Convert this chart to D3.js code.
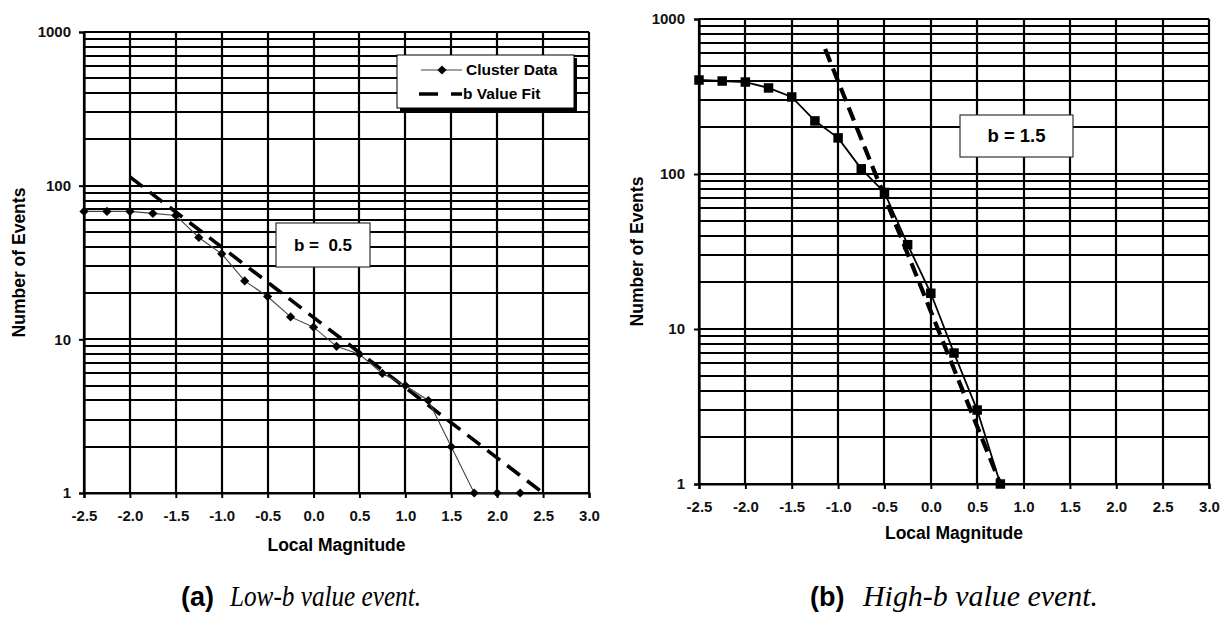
<!DOCTYPE html>
<html>
<head>
<meta charset="utf-8">
<script src="https://cdn.jsdelivr.net/npm/d3@7"></script>
<style>
  body { margin: 0; background: #fff; }
  text { font-family: "Liberation Sans", Arial, sans-serif; }
</style>
</head>
<body>
<svg id="chart" width="1220" height="622"></svg>
<script>
// panel (a) - low b value event
var magA = [-2.5, -2.25, -2.0, -1.75, -1.5, -1.25, -1.0, -0.75, -0.5, -0.25, 0.0, 0.25, 0.5, 0.75, 1.0, 1.25, 1.5, 1.75, 2.0, 2.25];
var countA = [68, 68, 68, 66, 64, 46, 36, 24, 19, 14, 12, 9, 8, 6, 5, 4, 2, 1, 1, 1];
var fitMagA = [-2.0, 2.5];
var fitCountA = [114, 1];

// panel (b) - high b value event
var magB = [-2.5, -2.25, -2.0, -1.75, -1.5, -1.25, -1.0, -0.75, -0.5, -0.25, 0.0, 0.25, 0.5, 0.75];
var countB = [404, 398, 392, 359, 314, 220, 171, 108, 76, 35, 17, 7, 3, 1];
var fitMagB = [-1.14, 0.75];
var fitCountB = [640, 1];

var xTicks = [-2.5, -2.0, -1.5, -1.0, -0.5, 0.0, 0.5, 1.0, 1.5, 2.0, 2.5, 3.0];
var yTicks = [1, 10, 100, 1000];
var legendLabels = ["Cluster Data", "b Value Fit"];

var svg = d3.select("#chart");

function drawPanel(p) {
    var x = d3.scaleLinear().domain([-2.5, 3.0]).range([p.left, p.right]);
    var y = d3.scaleLog().domain([1, 1000]).range([p.bottom, p.top]);
    var g = svg.append("g");

    // grid: every decade step, and every 0.5 magnitude
    var minor = [];
    [1, 10, 100].forEach(function(d) {
        for (var k = 1; k <= 10; k++) minor.push(d * k);
    });
    g.selectAll(".hg").data(minor).enter().append("line")
        .attr("x1", p.left).attr("x2", p.right)
        .attr("y1", function(d) { return Math.round(y(d)); })
        .attr("y2", function(d) { return Math.round(y(d)); })
        .attr("stroke", "#000").attr("stroke-width", 2.2);
    g.selectAll(".vg").data(xTicks).enter().append("line")
        .attr("x1", function(d) { return Math.round(x(d)); })
        .attr("x2", function(d) { return Math.round(x(d)); })
        .attr("y1", p.top).attr("y2", p.bottom)
        .attr("stroke", "#000").attr("stroke-width", 2.2);

    // axes
    var ax = g.append("g")
        .attr("transform", "translate(0," + p.bottom + ")")
        .call(d3.axisBottom(x).tickValues(xTicks).tickSize(5).tickPadding(12)
            .tickFormat(function(d) { return d.toFixed(1); }));
    var ay = g.append("g")
        .attr("transform", "translate(" + p.left + ",0)")
        .call(d3.axisLeft(y).tickValues(yTicks).tickSize(5).tickPadding(p.yPad)
            .tickFormat(d3.format("d")));
    [ax, ay].forEach(function(a) {
        a.select(".domain").attr("stroke", "#000").attr("stroke-width", 2.2);
        a.selectAll(".tick line").attr("stroke", "#000").attr("stroke-width", 2);
        a.selectAll("text").attr("fill", "#111")
            .style("font-family", "Liberation Sans, Arial, sans-serif")
            .style("font-size", "15px").style("font-weight", "bold");
    });

    // axis titles
    g.append("text")
        .attr("x", (p.left + p.right) / 2).attr("y", p.xTitleY)
        .attr("text-anchor", "middle")
        .style("font-size", "17.5px").style("font-weight", "bold")
        .text("Local Magnitude");
    g.append("text")
        .attr("transform", "translate(" + p.yTitleX + "," + (p.top + p.bottom) / 2 + ") rotate(-90)")
        .attr("text-anchor", "middle")
        .style("font-size", "17.5px").style("font-weight", "bold")
        .text("Number of Events");

    // fitted b value line
    var fit = p.fitMag.map(function(m, i) { return [m, p.fitCount[i]]; });
    var line = d3.line().x(function(d) { return x(d[0]); }).y(function(d) { return y(d[1]); });
    g.append("path").datum(fit)
        .attr("d", line)
        .attr("fill", "none").attr("stroke", "#000")
        .attr("stroke-width", p.fitWidth).attr("stroke-dasharray", p.fitDash);

    // cluster data
    var pts = p.mag.map(function(m, i) { return [m, p.count[i]]; });
    g.append("path").datum(pts)
        .attr("d", line)
        .attr("fill", "none").attr("stroke", p.dataColor).attr("stroke-width", p.dataWidth);
    g.selectAll(".pt").data(pts).enter().append("path")
        .attr("d", d3.symbol().type(d3.symbolSquare).size(p.symbolSize))
        .attr("transform", function(d) {
            return "translate(" + x(d[0]) + "," + y(d[1]) + ")" + (p.diamond ? " rotate(45)" : "");
        })
        .attr("fill", "#000");

    // b value annotation
    var bx = p.bBox;
    g.append("rect").attr("x", bx[0]).attr("y", bx[1]).attr("width", bx[2]).attr("height", bx[3])
        .attr("fill", "#fff").attr("stroke", "#333").attr("stroke-width", 1.2);
    g.append("text")
        .attr("x", bx[0] + bx[2] / 2).attr("y", bx[1] + bx[3] / 2 + 6)
        .attr("text-anchor", "middle").attr("xml:space", "preserve")
        .style("font-size", p.bFont).style("font-weight", "bold")
        .text(p.bText);
}

drawPanel({
    left: 84, right: 589, top: 32, bottom: 493, yPad: 8, xTitleY: 551, yTitleX: 25,
    mag: magA, count: countA, fitMag: fitMagA, fitCount: fitCountA,
    dataColor: "#444", dataWidth: 1.1, fitWidth: 3.6, fitDash: "16,9",
    diamond: true, symbolSize: 42,
    bBox: [276, 223, 94, 44], bText: "b =  0.5", bFont: "17px"
});

drawPanel({
    left: 699, right: 1209, top: 19, bottom: 484, yPad: 9, xTitleY: 539, yTitleX: 643,
    mag: magB, count: countB, fitMag: fitMagB, fitCount: fitCountB,
    dataColor: "#000", dataWidth: 1.8, fitWidth: 4.2, fitDash: "14,7",
    diamond: false, symbolSize: 90,
    bBox: [960, 115, 113, 42], bText: "b = 1.5", bFont: "18.5px"
});

// legend for panel (a)
var lg = svg.append("g");
lg.append("rect").attr("x", 400).attr("y", 58).attr("width", 177).attr("height", 53).attr("fill", "#000");
lg.append("rect").attr("x", 397).attr("y", 55).attr("width", 177).attr("height", 53)
    .attr("fill", "#fff").attr("stroke", "#000").attr("stroke-width", 1);
lg.append("line").attr("x1", 421).attr("x2", 462).attr("y1", 70).attr("y2", 70)
    .attr("stroke", "#444").attr("stroke-width", 1.1);
lg.append("path").attr("d", d3.symbol().type(d3.symbolSquare).size(42))
    .attr("transform", "translate(442,70) rotate(45)").attr("fill", "#000");
lg.append("line").attr("x1", 419).attr("x2", 462).attr("y1", 94).attr("y2", 94)
    .attr("stroke", "#000").attr("stroke-width", 3.4).attr("stroke-dasharray", "19,13");
lg.selectAll(".lt").data(legendLabels).enter().append("text")
    .attr("x", function(d, i) { return i === 0 ? 466 : 463; })
    .attr("y", function(d, i) { return 75 + i * 24; })
    .style("font-size", "15.5px").style("font-weight", "bold")
    .text(function(d) { return d; });

// captions
function caption(tag, label, x0, x1, x2) {
    svg.append("text").attr("x", x0).attr("y", 606)
        .style("font-family", "Liberation Sans, Arial, sans-serif")
        .style("font-size", "27px").style("font-weight", "bold")
        .text(tag);
    svg.append("text").attr("x", x1).attr("y", 606)
        .attr("textLength", x2 - x1).attr("lengthAdjust", "spacingAndGlyphs")
        .style("font-family", "Liberation Serif, serif")
        .style("font-size", "29px").style("font-style", "italic")
        .text(label);
}
caption("(a)", "Low-b value event.", 181, 230, 421);
caption("(b)", "High-b value event.", 810, 863, 1098);
</script>
</body>
</html>
